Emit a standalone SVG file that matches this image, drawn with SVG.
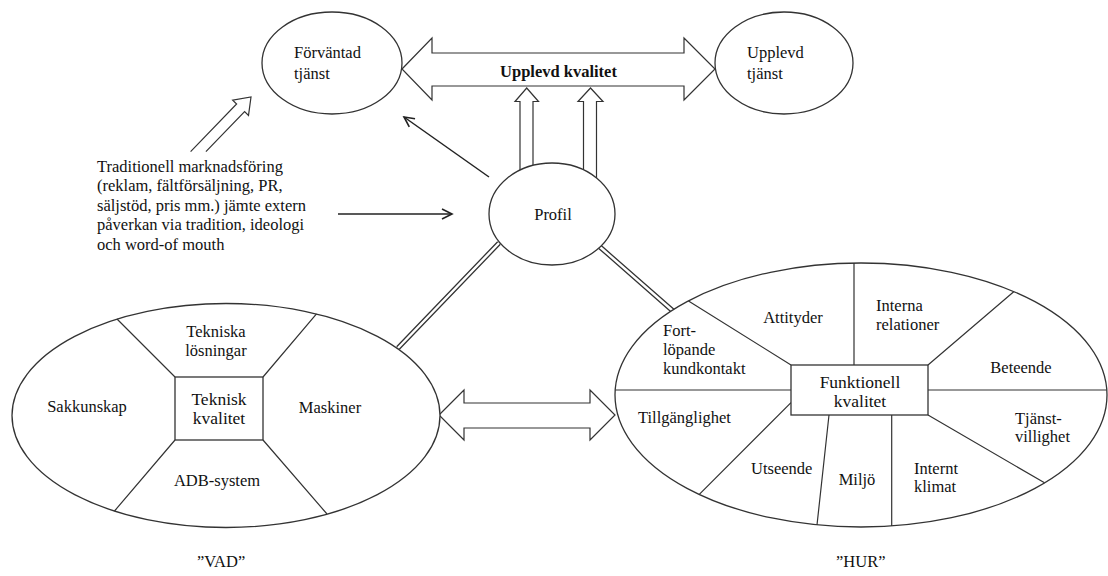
<svg xmlns="http://www.w3.org/2000/svg" width="1108" height="576" viewBox="0 0 1108 576">
<style>
.e{fill:#fff;stroke:#333;stroke-width:1.3}
.r{fill:#fff;stroke:#333;stroke-width:1.3}
.l{fill:none;stroke:#333;stroke-width:1.2}
.ha{fill:#fff;stroke:#333;stroke-width:1.2;stroke-linejoin:miter}
.dlo{fill:none;stroke:#333;stroke-width:5}
.dli{fill:none;stroke:#fff;stroke-width:2.4}
.ar{fill:none;stroke:#222;stroke-width:1.5}
text{font-family:"Liberation Serif","Times New Roman",serif;font-size:16.5px;fill:#111}
.c{font-size:17.5px}
.m{text-anchor:middle}
.b{font-weight:bold}
</style>
<defs>
<marker id="ah" markerUnits="userSpaceOnUse" markerWidth="16" markerHeight="16" refX="11" refY="6" orient="auto">
<path d="M1,1 L11,6 L1,11" fill="none" stroke="#222" stroke-width="1.6"/>
</marker>
</defs>
<g id="connectors">
<polygon class="ha" points="402,69 432,38 432,53 684,53 684,38 715,69 684,100 684,86 432,86 432,100"/>
<path class="ha" d="M520,170 L520,101.5 L515,101.5 L526.7,88 L538.5,101.5 L533,101.5 L533,165.4"/>
<path class="ha" d="M583.5,169.8 L583.5,101.5 L578,101.5 L590.5,88 L603,101.5 L596.5,101.5 L596.5,177.9"/>
<path class="ha" d="M190.6,151.6 L236.6,104 L232.7,100.2 L251,97 L248.5,115.4 L244.6,111.6 L205.9,151.6"/>
<line class="ar" x1="489" y1="177" x2="404" y2="117" marker-end="url(#ah)"/>
<line class="ar" x1="338" y1="214" x2="452" y2="214" marker-end="url(#ah)"/>
<path class="dlo" d="M499,243 L398,348 M600,247 L673,311"/>
<path class="dli" d="M499,243 L398,348 M600,247 L673,311"/>
<polygon class="ha" points="439,415 464,390 464,403 590,403 590,390 615,415 590,440 590,428 464,428 464,440"/>
</g>
<g id="forvantad">
<ellipse class="e" cx="332" cy="63" rx="70" ry="51"/>
<text x="294" y="58">Förväntad</text>
<text x="294" y="79">tjänst</text>
</g>
<g id="upplevd">
<ellipse class="e" cx="784" cy="63" rx="69" ry="51"/>
<text x="747" y="58">Upplevd</text>
<text x="747" y="79">tjänst</text>
</g>
<g id="upplevd-kvalitet">
<text class="m b" x="558.5" y="77">Upplevd kvalitet</text>
</g>
<g id="profil">
<ellipse class="e" cx="552" cy="214" rx="63" ry="51"/>
<text class="m" x="553" y="219.5">Profil</text>
</g>
<g id="traditionell">
<text x="97" y="171.5">Traditionell marknadsföring</text>
<text x="97" y="191">(reklam, fältförsäljning, PR,</text>
<text x="97" y="210.5">säljstöd, pris mm.) jämte extern</text>
<text x="97" y="230">påverkan via tradition, ideologi</text>
<text x="97" y="249.5">och word-of mouth</text>
</g>
<g id="vad">
<ellipse class="e" cx="226" cy="415.5" rx="214" ry="112"/>
<path class="l" d="M175,377 L117,319 M263,377 L316.5,313.8 M175,440 L114.5,511 M263,440 L327,514"/>
<rect class="r" x="175" y="377" width="88" height="63"/>
<text class="m c" x="219" y="405">Teknisk</text>
<text class="m c" x="219" y="424">kvalitet</text>
<text class="m" x="216" y="336.5">Tekniska</text>
<text class="m" x="216" y="356">lösningar</text>
<text class="m" x="87" y="412">Sakkunskap</text>
<text class="m" x="330" y="412.5">Maskiner</text>
<text class="m" x="217" y="486">ADB-system</text>
<text x="197" y="567">”VAD”</text>
</g>
<g id="hur">
<ellipse class="e" cx="861" cy="395" rx="246" ry="132"/>
<path class="l" d="M615.2,390 L791,390 M928,390 L1106.8,390 M791,365 L688.5,300.9 M854,365 L854,263 M928,365 L1014,291.5 M928,415 L1044.5,482.8 M891.7,415 L891.7,526 M829,415 L817,525 M791,402.7 L699.3,494.3"/>
<rect class="r" x="791" y="365" width="137" height="50"/>
<text class="m c" x="860" y="387.5">Funktionell</text>
<text class="m c" x="860" y="406.5">kvalitet</text>
<text x="663" y="335.5">Fort-</text>
<text x="663" y="355">löpande</text>
<text x="663" y="374">kundkontakt</text>
<text class="m" x="793" y="322.5">Attityder</text>
<text x="876" y="310.5">Interna</text>
<text x="876" y="329.5">relationer</text>
<text class="m" x="1021" y="373">Beteende</text>
<text x="1015" y="423.5">Tjänst-</text>
<text x="1015" y="441.5">villighet</text>
<text x="914" y="474">Internt</text>
<text x="914" y="492">klimat</text>
<text class="m" x="857" y="485">Miljö</text>
<text x="751" y="474">Utseende</text>
<text x="638" y="423">Tillgänglighet</text>
<text x="836" y="567">”HUR”</text>
</g>
</svg>
